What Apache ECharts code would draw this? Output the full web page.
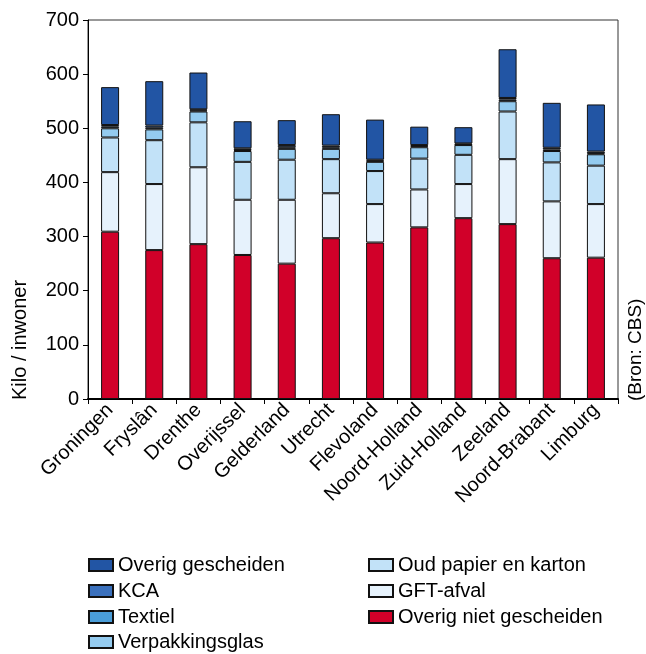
<!DOCTYPE html>
<html><head><meta charset="utf-8">
<script src="https://cdn.jsdelivr.net/npm/echarts@6/dist/echarts.min.js"></script>
<style>html,body{margin:0;padding:0;background:#fff}#c{width:646px;height:654px}</style>
</head><body><div id="c"></div>
<script>
const categories = ['Groningen','Fryslân','Drenthe','Overijssel','Gelderland','Utrecht','Flevoland','Noord-Holland','Zuid-Holland','Zeeland','Noord-Brabant','Limburg'];
const overigNietGescheiden = [309,275,286,266,250,297,289,317,334,323,260,261];
const gftAfval = [110,122,142,102,118,83,71,70,63,120,105,99];
const oudPapier = [64,81,83,70,74,63,61,57,54,88,72,71];
const verpakkingsglas = [17,20,20,20,20,19,17,21,18,19,21,21];
const textiel = [3,3,2,2,3,3,2,2,1,3,3,2];
const kca = [3,4,2,3,4,3,2,2,2,3,3,3];
const overigGescheiden = [70,82,68,50,46,58,74,34,30,90,83,87];
const yTicks = [0,100,200,300,400,500,600,700];
const legendColumn1 = ['Overig gescheiden','KCA','Textiel','Verpakkingsglas'];
const legendColumn2 = ['Oud papier en karton','GFT-afval','Overig niet gescheiden'];

const FONT = "'Liberation Sans', Arial, sans-serif";
const layers = [
  ['Overig niet gescheiden', overigNietGescheiden, '#d10029'],
  ['GFT-afval', gftAfval, '#e6f2fc'],
  ['Oud papier en karton', oudPapier, '#c2e2f8'],
  ['Verpakkingsglas', verpakkingsglas, '#94cbef'],
  ['Textiel', textiel, '#4a9dd8'],
  ['KCA', kca, '#3a70bc'],
  ['Overig gescheiden', overigGescheiden, '#2255a4']
];
const legendText = {fontFamily: FONT, fontSize: 20, color: '#000'};
const rowCenters = [561, 587, 613, 638];
const legends = [];
const mk = (n, left, cy) => ({data: [{name: n, icon: 'rect'}], left, top: cy - 11, itemWidth: 24, itemHeight: 12, itemGap: 6, textStyle: legendText, selectedMode: false});
legendColumn1.forEach((n, i) => legends.push(mk(n, 83, rowCenters[i])));
legendColumn2.forEach((n, i) => legends.push(mk(n, 363, rowCenters[i])));

const chart = echarts.init(document.getElementById('c'), null, {renderer:'canvas'});
chart.setOption({
  animation: false,
  textStyle: {fontFamily: FONT},
  grid: {left: 88, right: 28, top: 20, bottom: 255, show: true, borderColor: '#333', borderWidth: 1, backgroundColor: 'transparent'},
  legend: legends,
  xAxis: {
    type: 'category', data: categories,
    axisLine: {lineStyle: {color: '#000', width: 2}},
    axisTick: {show: true, length: 5, lineStyle: {color: '#000'}},
    axisLabel: {rotate: 45, fontSize: 20, color: '#000', fontFamily: FONT, margin: 8, interval: 0}
  },
  yAxis: {
    type: 'value', min: yTicks[0], max: yTicks[yTicks.length-1], interval: 100,
    axisLine: {show: true, lineStyle: {color: '#000', width: 1}},
    axisTick: {show: true, length: 5, lineStyle: {color: '#000'}},
    splitLine: {show: false},
    axisLabel: {fontSize: 20, color: '#000', fontFamily: FONT, margin: 9}
  },
  graphic: [
    {type: 'text', x: 20, y: 400, rotation: Math.PI/2, style: {text: 'Kilo / inwoner', font: "20px 'Liberation Sans', Arial", fill: '#000', textAlign: 'left', textVerticalAlign: 'middle'}},
    {type: 'text', x: 636, y: 401, rotation: Math.PI/2, style: {text: '(Bron: CBS)', font: "19px 'Liberation Sans', Arial", fill: '#000', textAlign: 'left', textVerticalAlign: 'middle'}}
  ],
  series: layers.map(([name, data, color]) => ({
    name, type: 'bar', stack: 'total', data, barWidth: 18,
    itemStyle: {color, borderColor: '#111', borderWidth: 1}
  }))
});
</script></body></html>
